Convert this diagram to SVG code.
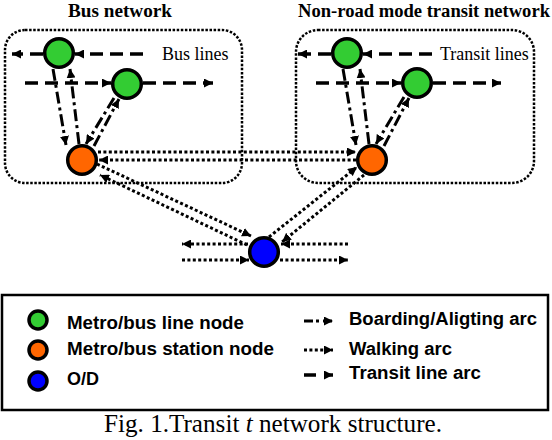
<svg xmlns="http://www.w3.org/2000/svg" width="552" height="440" viewBox="0 0 552 440">
<style>
.tl{fill:none;stroke:#000;stroke-width:3.5;stroke-dasharray:13 7;marker-end:url(#ah)}
.ba{fill:none;stroke:#000;stroke-width:3;stroke-dasharray:12 4 3 4;marker-end:url(#ah)}
.wa{fill:none;stroke:#000;stroke-width:3;stroke-dasharray:3 2.4;marker-end:url(#ah)}
.box{fill:none;stroke:#000;stroke-width:2.5;stroke-dasharray:2.5 1.6}
.n{stroke:#000;stroke-width:3.5}
.g{fill:#33cc33}.o{fill:#ff6600}.b{fill:#0000ff}
.ttl{font-family:"Liberation Serif",serif;font-weight:bold;font-size:18px}
.lab{font-family:"Liberation Serif",serif;font-size:18px}
.lg{font-family:"Liberation Sans",Arial,sans-serif;font-weight:bold;font-size:18px}
.cap{font-family:"Liberation Serif",serif;font-size:25px}
</style>
<defs>
<marker id="ah" viewBox="0 0 10 10" refX="10" refY="5" markerUnits="userSpaceOnUse" markerWidth="9" markerHeight="9" orient="auto">
<path d="M0,0 L10,5 L0,10 z" fill="#000"/>
</marker>
</defs>

<text class="ttl" x="68" y="17" textLength="104" lengthAdjust="spacingAndGlyphs">Bus network</text>
<text class="ttl" x="298" y="17" textLength="252" lengthAdjust="spacingAndGlyphs">Non-road mode transit network</text>

<rect class="box" x="5" y="30" width="237" height="153" rx="20"/>
<rect class="box" x="296" y="30" width="238" height="153" rx="22"/>

<text class="lab" x="162" y="60">Bus lines</text>
<text class="lab" x="440" y="60">Transit lines</text>

<g id="connectors">
<path class="tl" d="M143,54 L75,54"/>
<path class="tl" d="M43,54 L12,54"/>
<path class="tl" d="M25,83 L111,83"/>
<path class="tl" d="M143,83 L213,83"/>
<path class="tl" d="M432,54 L363,54"/>
<path class="tl" d="M331,54 L298,54"/>
<path class="tl" d="M316,83 L401,83"/>
<path class="tl" d="M433,83 L501,83"/>

<path class="ba" d="M53,69 L66,145"/>
<path class="ba" d="M79,144 L70,69"/>
<path class="ba" d="M114,98 L86,144"/>
<path class="ba" d="M94,146 L119,99"/>
<path class="ba" d="M343,69 L356,145"/>
<path class="ba" d="M369,144 L360,69"/>
<path class="ba" d="M404,97 L376,144"/>
<path class="ba" d="M384,146 L409,98"/>

<path class="wa" d="M98,152 L356,152"/>
<path class="wa" d="M356,160 L99,160"/>
<path class="wa" d="M97,164 L251,236"/>
<path class="wa" d="M247,245 L100,175"/>
<path class="wa" d="M269,237 L357,167"/>
<path class="wa" d="M364,175 L282,242"/>
<path class="wa" d="M348,244 L281,244"/>
<path class="wa" d="M248,244 L182,244"/>
<path class="wa" d="M182,260 L249,260"/>
<path class="wa" d="M280,260 L348,260"/>
</g>

<g id="bus-line-node-1"><circle class="n g" cx="59" cy="53" r="14.3"/></g>
<g id="bus-line-node-2"><circle class="n g" cx="127" cy="84" r="14.3"/></g>
<g id="bus-station"><circle class="n o" cx="82" cy="160" r="14.3"/></g>
<g id="transit-line-node-1"><circle class="n g" cx="347" cy="53" r="14.3"/></g>
<g id="transit-line-node-2"><circle class="n g" cx="417" cy="83" r="14.3"/></g>
<g id="transit-station"><circle class="n o" cx="372" cy="160" r="14.3"/></g>
<g id="od"><circle class="n b" cx="264" cy="252" r="14.3"/></g>

<g id="legend">
<rect x="2" y="295" width="546" height="115" fill="none" stroke="#000" stroke-width="2.5"/>
<circle class="n g" cx="38" cy="320" r="9"/>
<circle class="n o" cx="38" cy="350" r="9"/>
<circle class="n b" cx="38" cy="381" r="9"/>
<text class="lg" x="67" y="329" textLength="177" lengthAdjust="spacingAndGlyphs">Metro/bus line node</text>
<text class="lg" x="67" y="355" textLength="207" lengthAdjust="spacingAndGlyphs">Metro/bus station node</text>
<text class="lg" x="67" y="385">O/D</text>
<path d="M304,321 L333,321" fill="none" stroke="#000" stroke-width="3" stroke-dasharray="9 3 3 4" marker-end="url(#ah)"/>
<path d="M304,350 L333,350" fill="none" stroke="#000" stroke-width="3" stroke-dasharray="3 2.4" marker-end="url(#ah)"/>
<path d="M304,375 L333,375" fill="none" stroke="#000" stroke-width="3.5" stroke-dasharray="12 9" marker-end="url(#ah)"/>
<text class="lg" x="349" y="325" textLength="188" lengthAdjust="spacingAndGlyphs">Boarding/Aligting arc</text>
<text class="lg" x="349" y="355" textLength="103" lengthAdjust="spacingAndGlyphs">Walking arc</text>
<text class="lg" x="349" y="379" textLength="132" lengthAdjust="spacingAndGlyphs">Transit line arc</text>
</g>

<text class="cap" x="104" y="432" textLength="338" lengthAdjust="spacingAndGlyphs">Fig. 1.Transit <tspan font-style="italic">t</tspan> network structure.</text>
</svg>
